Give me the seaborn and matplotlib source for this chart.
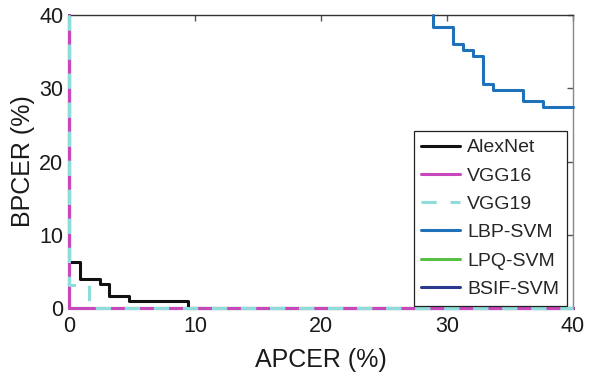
import matplotlib
matplotlib.use("Agg")
import matplotlib.pyplot as plt
import seaborn as sns
import pandas as pd

sns.set_theme(style="white")
plt.rcParams["font.family"] = ["Liberation Sans", "DejaVu Sans"]

# DET curve vertices (APCER %, BPCER %) for each method
alexnet_x = [0, 0, 0.16, 0.87, 0.87, 2.46, 2.46, 3.2, 3.2, 4.76, 4.76, 9.47, 9.47, 40]
alexnet_y = [40, 6.3, 6.3, 6.3, 3.95, 3.95, 3.3, 3.3, 1.68, 1.68, 0.9, 0.9, 0, 0]

vgg16_x = [0, 0, 40]
vgg16_y = [40, 0, 0]

vgg19_x = [0, 0, 1.6, 1.6, 40]
vgg19_y = [40, 3.2, 3.2, 0, 0]

lbp_x = [28.9, 28.9, 30.5, 30.5, 31.3, 31.3, 32.1, 32.1, 32.86, 32.86, 33.65, 33.65, 36.0, 36.0, 37.6, 37.6, 40]
lbp_y = [40, 38.4, 38.4, 36.05, 36.05, 35.2, 35.2, 34.4, 34.4, 30.56, 30.56, 29.7, 29.7, 28.2, 28.2, 27.4, 27.4]

lpq_x = [0, 0, 40]
lpq_y = [40, 0, 0]

bsif_x = [0, 0, 40]
bsif_y = [40, 0, 0]

methods = ["AlexNet", "VGG16", "VGG19", "LBP-SVM", "LPQ-SVM", "BSIF-SVM"]
curves = {
    "AlexNet": (alexnet_x, alexnet_y),
    "VGG16": (vgg16_x, vgg16_y),
    "VGG19": (vgg19_x, vgg19_y),
    "LBP-SVM": (lbp_x, lbp_y),
    "LPQ-SVM": (lpq_x, lpq_y),
    "BSIF-SVM": (bsif_x, bsif_y),
}
colors = {
    "AlexNet": "#111111",
    "VGG16": "#C848BC",
    "VGG19": "#8EDDDA",
    "LBP-SVM": "#1F72BA",
    "LPQ-SVM": "#55C044",
    "BSIF-SVM": "#2B3A8F",
}
styles = {"VGG19": (5, 4.5)}
# drawing order: hidden curves first so the visible ones sit on top
order = ["LPQ-SVM", "BSIF-SVM", "AlexNet", "LBP-SVM", "VGG16", "VGG19"]

fig = plt.figure(figsize=(5.93, 3.79), dpi=100)
ax = fig.add_axes([0.1164, 0.1873, 0.8499, 0.7731])

handles = {}
for i, name in enumerate(order):
    xs, ys = curves[name]
    df = pd.DataFrame({"APCER": xs, "BPCER": ys})
    sns.lineplot(data=df, x="APCER", y="BPCER", ax=ax, sort=False, estimator=None,
                 color=colors[name], linewidth=2.2, label=name)
    line = ax.get_lines()[-1]
    line.set_clip_on(False)
    line.set_zorder(3 + i * 0.1)
    if name in styles:
        line.set_dashes(styles[name])
    handles[name] = line

ax.set_xlim(0, 40)
ax.set_ylim(0, 40)
ax.set_xticks([0, 10, 20, 30, 40])
ax.set_yticks([0, 10, 20, 30, 40])
ax.tick_params(direction="in", length=4, width=1, colors="#555555", labelcolor="#1a1a1a",
               labelsize=15.5, top=True, right=True)
ax.tick_params(axis="x", pad=6)
ax.tick_params(axis="y", pad=4)
for s in ax.spines.values():
    s.set_color("#333333")
    s.set_linewidth(1.0)
    s.set_visible(True)
ax.spines["right"].set_color("#888888")

ax.set_xlabel("APCER (%)", fontsize=18, color="#1a1a1a", labelpad=8)
ax.set_ylabel("BPCER (%)", fontsize=18, color="#1a1a1a", labelpad=3)

leg = ax.legend([handles[m] for m in methods], methods, loc="lower right",
                bbox_to_anchor=(0.988, 0.008), fontsize=14, frameon=True, fancybox=False,
                edgecolor="#222222", framealpha=1, handlelength=2.0, handletextpad=0.35,
                labelspacing=0.55, borderpad=0.4, borderaxespad=0)
leg.get_frame().set_linewidth(0.9)
leg.set_zorder(5)

fig.savefig("out.png", dpi=100)
